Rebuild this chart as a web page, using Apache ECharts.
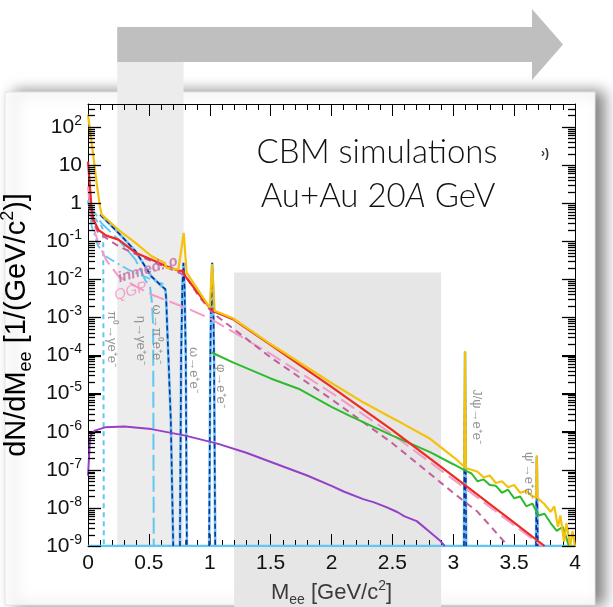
<!DOCTYPE html>
<html>
<head>
<meta charset="utf-8">
<script src="https://cdn.jsdelivr.net/npm/echarts@6/dist/echarts.min.js"></script>
<style>
  html, body { margin: 0; padding: 0; background: #fff; }
  #chart { width: 613px; height: 607px; }
</style>
</head>
<body>
<div id="chart"></div>
<script>
// all curves: [M_ee in GeV/c^2, dN/dM_ee]
const sumAll = [[0, 210], [0.044, 17], [0.071, 3.4], [0.098, 0.83], [0.112, 0.5], [0.25, 0.2], [0.39, 0.091],
  [0.52, 0.041], [0.63, 0.027], [0.645, 0.02], [0.742, 0.018], [0.786, 0.166], [0.81, 0.015], [1.0, 0.0018],
  [1.02, 0.025], [1.04, 0.0015], [1.19, 9.5e-4], [1.5, 2.0e-4], [2.0, 1.9e-5], [2.26, 5.9e-6], [2.54, 1.95e-6],
  [2.81, 6.5e-7], [3.02, 1.95e-7], [3.09, 1.2e-7], [3.097, 1.3e-4], [3.104, 1.1e-7], [3.15, 1.0e-7], [3.2, 8.9e-8],
  [3.25, 6.3e-8], [3.3, 7.1e-8], [3.35, 4.5e-8], [3.4, 5.0e-8], [3.45, 3.5e-8], [3.5, 4.0e-8], [3.55, 2.5e-8],
  [3.6, 2.8e-8], [3.65, 2.0e-8], [3.681, 1.9e-8], [3.686, 2.4e-7], [3.692, 1.8e-8], [3.75, 1.25e-8], [3.8, 7.9e-9],
  [3.83, 1.1e-8], [3.86, 3.2e-9], [3.88, 6.3e-9], [3.91, 1.3e-9], [3.93, 4.0e-9], [3.96, 1e-9], [3.98, 2.5e-9], [4.0, 1e-9]];

const thermalSum = [[0, 12.3], [0.016, 2.75], [0.03, 0.68], [0.045, 0.37], [0.085, 0.2], [0.15, 0.14], [0.25, 0.11],
  [0.39, 0.05], [0.52, 0.033], [0.645, 0.022], [0.74, 0.017], [0.78, 0.0166], [0.80, 0.012], [0.9, 0.0045],
  [1.0, 0.0018], [1.04, 0.0014], [1.19, 9e-4], [1.5, 1.9e-4], [2.0, 1.5e-5], [2.5, 1.1e-6], [3.0, 6.8e-8],
  [3.5, 4.1e-9], [3.75, 1e-9]];

const charm = [[1.016, 1.2e-4], [1.19, 6.6e-5], [1.5, 2.5e-5], [1.74, 1.3e-5], [2.0, 4.5e-6], [2.15, 2.6e-6],
  [2.5, 7.9e-7], [2.81, 2.9e-7], [3.0, 1.4e-7], [3.1, 9.5e-8], [3.15, 8.0e-8], [3.2, 5.0e-8], [3.25, 5.6e-8],
  [3.3, 4.0e-8], [3.35, 3.8e-8], [3.4, 2.5e-8], [3.45, 3.0e-8], [3.5, 1.8e-8], [3.55, 2.0e-8], [3.6, 1.1e-8],
  [3.65, 1.3e-8], [3.7, 6.3e-9], [3.75, 7.0e-9], [3.8, 4.0e-9], [3.85, 2.5e-9], [3.9, 3.2e-9], [3.95, 1e-9]];

const dyDecay = [[0, 7e-8], [0.008, 2e-7], [0.016, 6.5e-7], [0.03, 8.9e-7], [0.057, 1.07e-6], [0.14, 1.3e-6],
  [0.30, 1.38e-6], [0.52, 1.17e-6], [0.80, 7.9e-7], [1.07, 4.8e-7], [1.3, 2.8e-7], [1.58, 1.3e-7], [1.8, 7.1e-8],
  [2.0, 3.8e-8], [2.1, 2.7e-8], [2.26, 1.7e-8], [2.35, 1.4e-8], [2.45, 1.05e-8], [2.54, 7.8e-9], [2.6, 6.0e-9],
  [2.7, 4.5e-9], [2.81, 2.3e-9], [2.89, 1.4e-9], [2.93, 1e-9]];

const qgp = [[0, 2.75], [0.02, 0.56], [0.05, 0.2], [0.085, 0.091], [0.15, 0.032], [0.25, 0.012], [0.39, 0.0066],
  [0.52, 0.004], [0.8, 0.0018], [1.0, 9.5e-4], [1.5, 1.1e-4], [2.0, 1.05e-5], [2.5, 8.5e-7], [3.0, 5.6e-8],
  [3.5, 3.5e-9], [3.73, 1e-9]];

const inmedRho = [[0.01, 1.0], [0.04, 0.32], [0.085, 0.166], [0.25, 0.074], [0.52, 0.03], [0.69, 0.018],
  [0.8, 0.0126], [0.91, 0.0036], [1.02, 0.00135], [1.5, 8.9e-5], [2.0, 7.1e-6], [2.5, 5.0e-7], [3.0, 2.5e-8],
  [3.2, 7.9e-9], [3.45, 1e-9]];

const rhoVac = [[0, 1.2], [0.03, 0.25], [0.08, 0.079], [0.14, 0.041], [0.33, 0.018], [0.52, 0.01], [0.62, 0.0075]];

const etaDalitz = [[0, 1.0], [0.057, 0.55], [0.11, 0.3], [0.25, 0.11], [0.39, 0.033], [0.47, 0.0095],
  [0.51, 0.0063], [0.525, 0.0025], [0.535, 6.3e-4], [0.54, 1e-9]];

const pi0Dalitz = [[0, 1.1], [0.03, 0.56], [0.07, 0.35], [0.11, 0.25], [0.125, 0.2], [0.13, 1e-9]];

const omegaDalitz = [[0.1, 0.5], [0.11, 0.45], [0.25, 0.166], [0.39, 0.055], [0.52, 0.012], [0.605, 0.0066],
  [0.635, 0.0055], [0.642, 0.0032], [0.65, 6.3e-4], [0.68, 2.1e-6], [0.70, 1e-9]];

const omegaPeak = [[0.755, 1e-9], [0.765, 1e-4], [0.775, 0.0063], [0.784, 0.027], [0.793, 0.0063], [0.803, 1e-4], [0.812, 1e-9]];
const phiPeak = [[0.995, 1e-9], [1.005, 1e-4], [1.013, 0.0063], [1.02, 0.027], [1.027, 0.0063], [1.035, 1e-4], [1.045, 1e-9]];
const jpsiPeak = [[3.088, 1e-9], [3.093, 1e-6], [3.097, 1.25e-4], [3.101, 1e-6], [3.106, 1e-9]];
const psiPrimePeak = [[3.68, 1e-9], [3.684, 3e-8], [3.686, 2.2e-7], [3.689, 3e-8], [3.694, 1e-9]];
const floorLine = [[0, 1e-9], [4, 1e-9]];

// annotation texts placed in data coordinates
const decayLabels = [
  ['π⁰→γe⁺e⁻', 0.19, 2.7e-4], ['η→γe⁺e⁻', 0.43, 2.5e-4], ['ω→π⁰e⁺e⁻', 0.56, 3.6e-4],
  ['ω→e⁺e⁻', 0.865, 4.2e-5], ['φ→e⁺e⁻', 1.085, 1.6e-5], ['J/ψ→e⁺e⁻', 3.19, 2.5e-6], ["ψ'→e⁺e⁻", 3.62, 7e-8]
];
const curveLabels = [['inmed. ρ', 0.49, 0.018, '#c26aa2', 'bold'], ['QGP', 0.35, 0.0048, '#f28cc2', 'normal']];

const lowMassBand = [0.24, 0.785];
const highMassBand = [1.2, 2.9, 0.015];

// y axis: decades 1e-9 .. 400 (drawn on a log10 value axis)
const yMin = 1e-9, yMax = 400;
const decades = [-9, -8, -7, -6, -5, -4, -3, -2, -1, 0, 1, 2];
const mantissas = [2, 3, 4, 5, 6, 7, 8, 9];
const xMin = 0, xMax = 4;

const lg = v => Math.log10(v);
const toLog = pts => pts.map(p => [p[0], lg(p[1])]);

const FONT = 'Liberation Sans, Arial, sans-serif';
const LIGHT_BLUE = '#62c6f2';
const DARK_BLUE = '#1b2a9e';

function expLabel(k) {
  if (Math.abs(k - Math.round(k)) > 1e-6) return '';
  k = Math.round(k);
  if (k === 0) return '{b|1}';
  if (k === 1) return '{b|10}';
  return '{b|10}{sup|' + k + '}';
}

function line(name, data, color, width, type, z) {
  return {
    name: name, type: 'line', data: toLog(data), showSymbol: false, symbol: 'none', clip: true,
    lineStyle: { color: color, width: width, type: type || 'solid' }, z: z || 2, silent: true
  };
}

// cocktail lines: light-blue solid with dark-blue dashes on top
function cocktail(name, data) {
  return [line(name + '_bg', data, LIGHT_BLUE, 2.6, 'solid', 3), line(name, data, DARK_BLUE, 1.6, [5, 3], 3)];
}

const chart = echarts.init(document.getElementById('chart'));

const axisCommon = {
  axisLine: { show: true, onZero: false, lineStyle: { color: '#000', width: 1 } },
  splitLine: { show: false }
};

chart.setOption({
  animation: false,
  grid: { left: 88, right: 38, top: 104, bottom: 61, containLabel: false, outerBoundsMode: 'none' },
  xAxis: [
    Object.assign({
      type: 'value', min: xMin, max: xMax, interval: 0.5,
      axisTick: { show: true, inside: true, length: 12, lineStyle: { color: '#000' } },
      minorTick: { show: true, splitNumber: 5, length: 6, lineStyle: { color: '#000' } },
      axisLabel: { fontSize: 21, color: '#111', fontFamily: FONT, margin: 7 },
      name: 'M{sub|ee} [GeV/c{sup|2}]', nameLocation: 'middle', nameGap: 32,
      nameTextStyle: {
        fontSize: 22, color: '#3a3a3a', fontFamily: FONT, lineHeight: 28,
        rich: { sub: { fontSize: 14, lineHeight: 12, verticalAlign: 'bottom', fontFamily: FONT, color: '#3a3a3a' },
                sup: { fontSize: 14, lineHeight: 12, verticalAlign: 'top', fontFamily: FONT, color: '#3a3a3a' } }
      }
    }, axisCommon),
    Object.assign({
      type: 'value', min: xMin, max: xMax, interval: 0.5, position: 'top',
      axisTick: { show: true, inside: true, length: 12, lineStyle: { color: '#000' } },
      minorTick: { show: true, splitNumber: 5, length: 6, lineStyle: { color: '#000' } },
      axisLabel: { show: false }
    }, axisCommon)
  ],
  yAxis: [
    Object.assign({
      type: 'value', min: lg(yMin), max: lg(yMax), interval: 1,
      axisTick: { show: true, inside: true, length: 13, lineStyle: { color: '#000' } },
      axisLabel: {
        formatter: expLabel, margin: 6, color: '#111', showMaxLabel: false,
        rich: { b: { fontSize: 21, lineHeight: 26, fontFamily: FONT, color: '#111' },
                sup: { fontSize: 14, lineHeight: 12, verticalAlign: 'top', fontFamily: FONT, color: '#111' } }
      },
      name: 'dN/dM{sub|ee} [1/(GeV/c{sup|2})]', nameLocation: 'middle', nameGap: 44, nameRotate: 90,
      nameTextStyle: {
        fontSize: 29, color: '#000', fontFamily: FONT, lineHeight: 36,
        rich: { sub: { fontSize: 18, lineHeight: 14, verticalAlign: 'bottom', fontFamily: FONT },
                sup: { fontSize: 18, lineHeight: 14, verticalAlign: 'top', fontFamily: FONT } }
      }
    }, axisCommon),
    Object.assign({
      type: 'value', min: lg(yMin), max: lg(yMax), interval: 1, position: 'right',
      axisTick: { show: true, inside: true, length: 13, lineStyle: { color: '#000' } },
      axisLabel: { show: false }
    }, axisCommon)
  ],
  series: [
    line('floor', floorLine, LIGHT_BLUE, 2.5, 'solid', 2),
    line('rho', rhoVac, LIGHT_BLUE, 1.8, [10, 4, 2, 4], 2),
    line('pi0', pi0Dalitz, LIGHT_BLUE, 2, [5, 4], 2),
    line('eta', etaDalitz, LIGHT_BLUE, 2, [16, 5], 2),
    ...cocktail('omegaDalitz', omegaDalitz),
    ...cocktail('omega', omegaPeak),
    ...cocktail('phi', phiPeak),
    ...cocktail('jpsi', jpsiPeak),
    ...cocktail('psi2s', psiPrimePeak),
    line('qgp', qgp, '#f39ac6', 2, [16, 6], 3),
    line('inmed', inmedRho, '#c2609f', 2, [7, 5], 3),
    line('dy', dyDecay, '#9540c8', 2, 'solid', 3),
    line('charm', charm, '#2dbb2d', 2, 'solid', 3),
    line('thermal', thermalSum, '#ee2a24', 2.2, 'solid', 4),
    line('sum', sumAll, '#f4c20d', 2.2, 'solid', 4),
    {
      type: 'scatter', symbolSize: 0, silent: true, z: 6,
      data: decayLabels.map(d => ({ name: d[0], value: [d[1], lg(d[2])] })),
      label: { show: true, position: 'inside', formatter: '{b}', rotate: -90, color: '#7c7c7c', fontSize: 13, fontFamily: FONT }
    },
    {
      type: 'scatter', symbolSize: 0, silent: true, z: 6,
      data: curveLabels.map(d => ({
        name: d[0], value: [d[1], lg(d[2])],
        label: { color: d[3], fontWeight: d[4] }
      })),
      label: { show: true, position: 'inside', formatter: '{b}', rotate: 17, fontSize: 15, fontStyle: 'italic', fontFamily: FONT }
    }
  ]
});

// frame ticks on the left and right side of the log axis (decades long, sub-decades short)
const toPx = (x, y) => chart.convertToPixel({ gridIndex: 0 }, [x, y]);
const frameTicks = [];
function addTick(level, len) {
  const l = toPx(xMin, level), r = toPx(xMax, level);
  const y = Math.round(l[1]) + 0.5;
  frameTicks.push({ type: 'line', z: 20, silent: true, shape: { x1: l[0], y1: y, x2: l[0] + len, y2: y }, style: { stroke: '#000', lineWidth: 1.3 } });
  frameTicks.push({ type: 'line', z: 20, silent: true, shape: { x1: r[0] - len, y1: y, x2: r[0], y2: y }, style: { stroke: '#000', lineWidth: 1.3 } });
}
decades.forEach(e => {
  addTick(e, 13);
  mantissas.forEach(m => { if (m * Math.pow(10, e) < yMax) addTick(lg(m * Math.pow(10, e)), 7); });
});

// decorations: card, grey bands reaching outside the frame, arrow, caption
const b1l = toPx(lowMassBand[0], 0);
const b1r = toPx(lowMassBand[1], lg(yMin));
const b2l = toPx(highMassBand[0], lg(highMassBand[2]));
const b2r = toPx(highMassBand[1], lg(highMassBand[2]));

const CAPTION_FONT = 'Lato, Open Sans, sans-serif';
chart.setOption({
  graphic: [
    { type: 'rect', z: -10, shape: { x: 5, y: 92, width: 590, height: 513 },
      style: { fill: '#fff', stroke: '#e2e2e2', lineWidth: 1, shadowBlur: 14, shadowOffsetX: 9, shadowColor: 'rgba(0,0,0,0.5)' } },
    { type: 'rect', z: -9, shape: { x: b1l[0], y: 62, width: b1r[0] - b1l[0], height: b1r[1] - 62 }, style: { fill: '#ececec' } },
    { type: 'rect', z: -9, shape: { x: b2l[0], y: b2l[1], width: b2r[0] - b2l[0], height: 607 - b2l[1] }, style: { fill: '#e6e6e6' } },
    { type: 'polygon', z: -9,
      shape: { points: [[b1l[0], 27], [532, 27], [532, 9], [563, 44.5], [532, 80], [532, 62], [b1l[0], 62]] },
      style: { fill: '#bfbfbf' } },
    { type: 'text', z: 10, x: 377, y: 152,
      style: { text: 'CBM simulations', fontSize: 33, fontWeight: 300, fontFamily: CAPTION_FONT,
               fill: '#111', align: 'center', verticalAlign: 'middle' } },
    { type: 'text', z: 10, x: 378, y: 196,
      style: { text: 'Au+Au 20{i|A} GeV', fontSize: 33, fontWeight: 300, fontFamily: CAPTION_FONT,
               fill: '#111', align: 'center', verticalAlign: 'middle',
               rich: { i: { fontSize: 33, fontStyle: 'italic', fontWeight: 300, fontFamily: CAPTION_FONT, fill: '#111' } } } },
    { type: 'text', z: 10, x: 545, y: 154,
      style: { text: '›)', fontSize: 12, fontWeight: 'bold', fontFamily: FONT, fill: '#333', align: 'center', verticalAlign: 'middle' } },
    { type: 'group', z: 20, children: frameTicks }
  ]
});
</script>
</body>
</html>
